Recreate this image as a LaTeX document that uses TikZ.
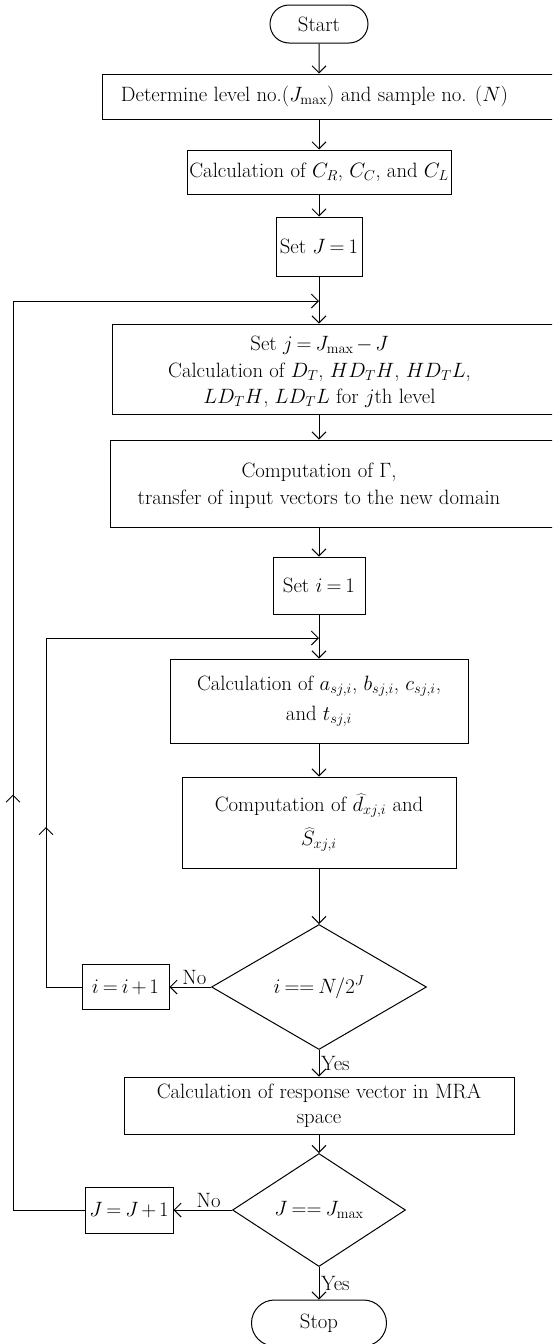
\documentclass[tikz,border=0pt]{standalone}
\usetikzlibrary{shapes.geometric,shapes.misc,arrows.meta,decorations.markings}
\newcommand\mytightmath{\thickmuskip=3.5mu\relax\medmuskip=2.5mu\relax}
\begin{document}
\begin{tikzpicture}[x=1pt,y=-1pt,line width=1pt,
  font=\fontsize{20.74}{26.5}\selectfont\mytightmath,
  >={Straight Barb[length=7pt,width=14pt]},
  box/.style={draw,rectangle,inner sep=0pt,align=center},
  term/.style={draw,rounded rectangle,inner sep=0pt},
  dec/.style={draw,diamond,inner sep=0pt},
  lbl/.style={inner sep=1.5pt},
  midup/.style={decoration={markings,mark=at position #1 with {\arrow{>}}},postaction={decorate}}
]
\useasboundingbox (0,0) rectangle (552,1344);
\clip (0,0) rectangle (552,1344);

\node[term,minimum width=98pt,minimum height=38pt] (start) at (319,24) {Start};
\node[box,minimum width=473pt,minimum height=45pt,
  label={[xshift=-24pt]center:Determine level no.($J_{\max}$) and sample no. ($N$)}] (det) at (338.5,96.5) {};
\node[box,minimum width=264pt,minimum height=44pt] (calcC) at (319,172) {Calculation of $C_R$, $C_C$, and $C_L$};
\node[box,minimum width=86pt,minimum height=59pt] (setJ) at (319,246.5) {Set $J=1$};
\node[box,minimum width=463pt,minimum height=90pt,
  label={[xshift=-24pt,yshift=-3pt,align=center]center:Set $j=J_{\max}-J$\\Calculation of $D_T$, $HD_TH$, $HD_TL$,\\$LD_TH$, $LD_TL$ for $j$th level}] (setj) at (343.5,369) {};
\node[box,minimum width=465pt,minimum height=87pt,
  label={[xshift=-23.5pt,yshift=-2pt,align=center]center:Computation of $\Gamma$,\\transfer of input vectors to the new domain}] (gam) at (342.5,483.5) {};
\node[box,minimum width=92pt,minimum height=57pt] (seti) at (319,585.5) {Set $i=1$};
\node[box,minimum width=298pt,minimum height=84pt] (calca) at (319,701) {Calculation of $a_{sj,i}$, $b_{sj,i}$, $c_{sj,i}$,\\[3pt]and $t_{sj,i}$};
\node[box,minimum width=274pt,minimum height=91pt] (compd) at (319,822.5) {Computation of $\widehat{d}_{xj,i}$ and\\[8pt]$\widehat{S}_{xj,i}$};
\node[dec,minimum width=215pt,minimum height=125pt] (deci) at (319,987) {$i == N/2^J$};
\node[box,minimum width=87pt,minimum height=45pt] (iinc) at (125.5,987) {$i=i+1$};
\node[box,minimum width=390pt,minimum height=57pt] (resp) at (319,1105.5) {Calculation of response vector in MRA\\[-2pt]space};
\node[dec,minimum width=173pt,minimum height=113pt] (decJ) at (319,1210) {$J == J_{\max}$};
\node[box,minimum width=88pt,minimum height=46pt] (Jinc) at (129,1210) {$J=J+1$};
\node[term,minimum width=135pt,minimum height=46pt] (stop) at (319,1323) {Stop};

\coordinate (mJ) at (319,301);
\coordinate (lJ) at (13,301);
\coordinate (mi) at (319,638);
\coordinate (li) at (46,638);

\draw[->] (start) -- (start |- det.north);
\draw[->] (start |- det.south) -- (calcC);
\draw[->] (calcC) -- (setJ);
\draw[->] (setJ) -- (setJ |- setj.north);
\draw[->] (setJ |- setj.south) -- (setJ |- gam.north);
\draw[->] (setJ |- gam.south) -- (seti);
\draw[->] (seti) -- (calca);
\draw[->] (calca) -- (compd);
\draw[->] (compd) -- (deci);
\draw[->] (deci) -- node[right,lbl]{Yes} (resp);
\draw[->] (deci) -- node[above,lbl,pos=0.4]{No} (iinc);
\draw[->] (resp) -- (decJ);
\draw[->] (decJ) -- node[right,lbl]{Yes} (stop);
\draw[->] (decJ) -- node[above,lbl,pos=0.4]{No} (Jinc);

\draw[->,midup=487pt] (Jinc.west) -| (lJ) -- (mJ);
\draw[->,midup=195.5pt] (iinc.west) -| (li) -- (mi);
\end{tikzpicture}
\end{document}
